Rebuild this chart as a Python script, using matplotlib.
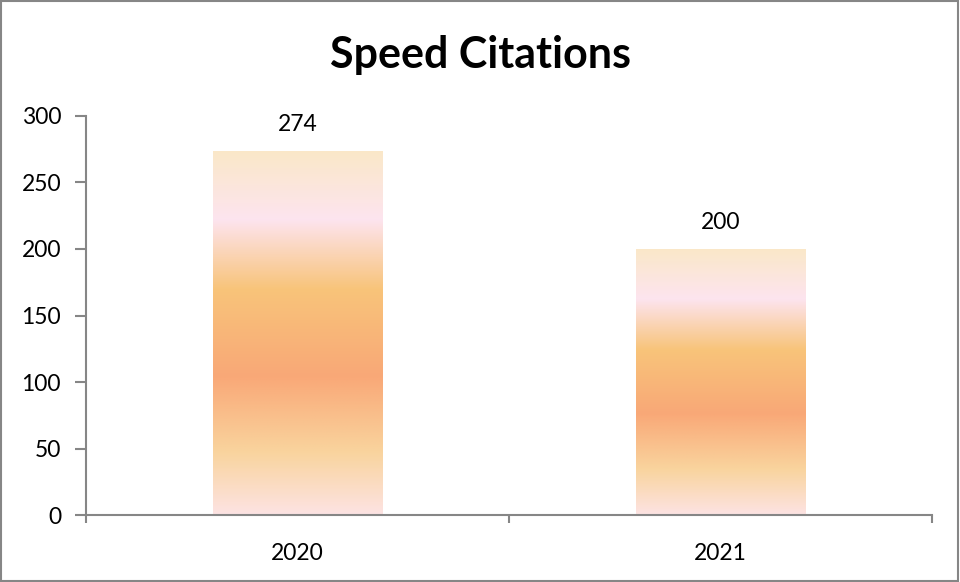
import numpy as np
import matplotlib.pyplot as plt
from matplotlib.colors import LinearSegmentedColormap
from matplotlib.patches import Rectangle

years = ["2020", "2021"]
citations = [274, 200]

# gradient stops, top of bar -> bottom of bar
grad_pos = [0.0, 0.19, 0.38, 0.62, 0.83, 1.0]
grad_cols = ["#FAE8C8", "#FDE4EF", "#F8C47A", "#F9A877", "#F9D49E", "#FDE3E3"]

plt.rcParams["font.family"] = ["Lato", "DejaVu Sans"]

fig = plt.figure(figsize=(9.6, 5.82), dpi=100)
ax = fig.add_axes([0.0896, 0.1151, 0.8812, 0.6856])

x = np.arange(len(years))
bars = ax.bar(x, citations, width=0.4, facecolor="none", edgecolor="none")

cmap = LinearSegmentedColormap.from_list("peach", list(zip(grad_pos, grad_cols)))
grad = np.linspace(0, 1, 256).reshape(-1, 1)
for b in bars:
    x0, w, h = b.get_x(), b.get_width(), b.get_height()
    im = ax.imshow(grad, cmap=cmap, aspect="auto", origin="upper",
                   extent=[x0, x0 + w, 0, h], zorder=2)
    im.set_clip_path(b)
    ax.text(x0 + w / 2, h + 12, str(h), ha="center", va="bottom", fontsize=16.5)

ax.set_xlim(-0.5, len(years) - 0.5)
ax.set_ylim(0, 300)
ax.set_yticks(range(0, 301, 50))
ax.set_xticks(x)
ax.set_xticklabels(years)
ax.set_xticks([-0.5, 0.5, 1.5], minor=True)
ax.tick_params(axis="x", which="major", length=0, pad=20, labelsize=16.5)
ax.tick_params(axis="x", which="minor", length=6, color="#868686", width=1.5)
ax.tick_params(axis="y", length=8, color="#868686", width=1.5, labelsize=16.5, pad=10)

for s in ["top", "right"]:
    ax.spines[s].set_visible(False)
for s in ["left", "bottom"]:
    ax.spines[s].set_color("#868686")
    ax.spines[s].set_linewidth(1.5)

fig.text(0.5, 0.905, "Speed Citations", fontsize=31, fontweight="bold",
         ha="center", va="center")

fig.patches.append(Rectangle((0.001, 0.002), 0.997, 0.996, transform=fig.transFigure,
                             fill=False, edgecolor="#868686", linewidth=1.5))

fig.savefig("out.png", dpi=100)
